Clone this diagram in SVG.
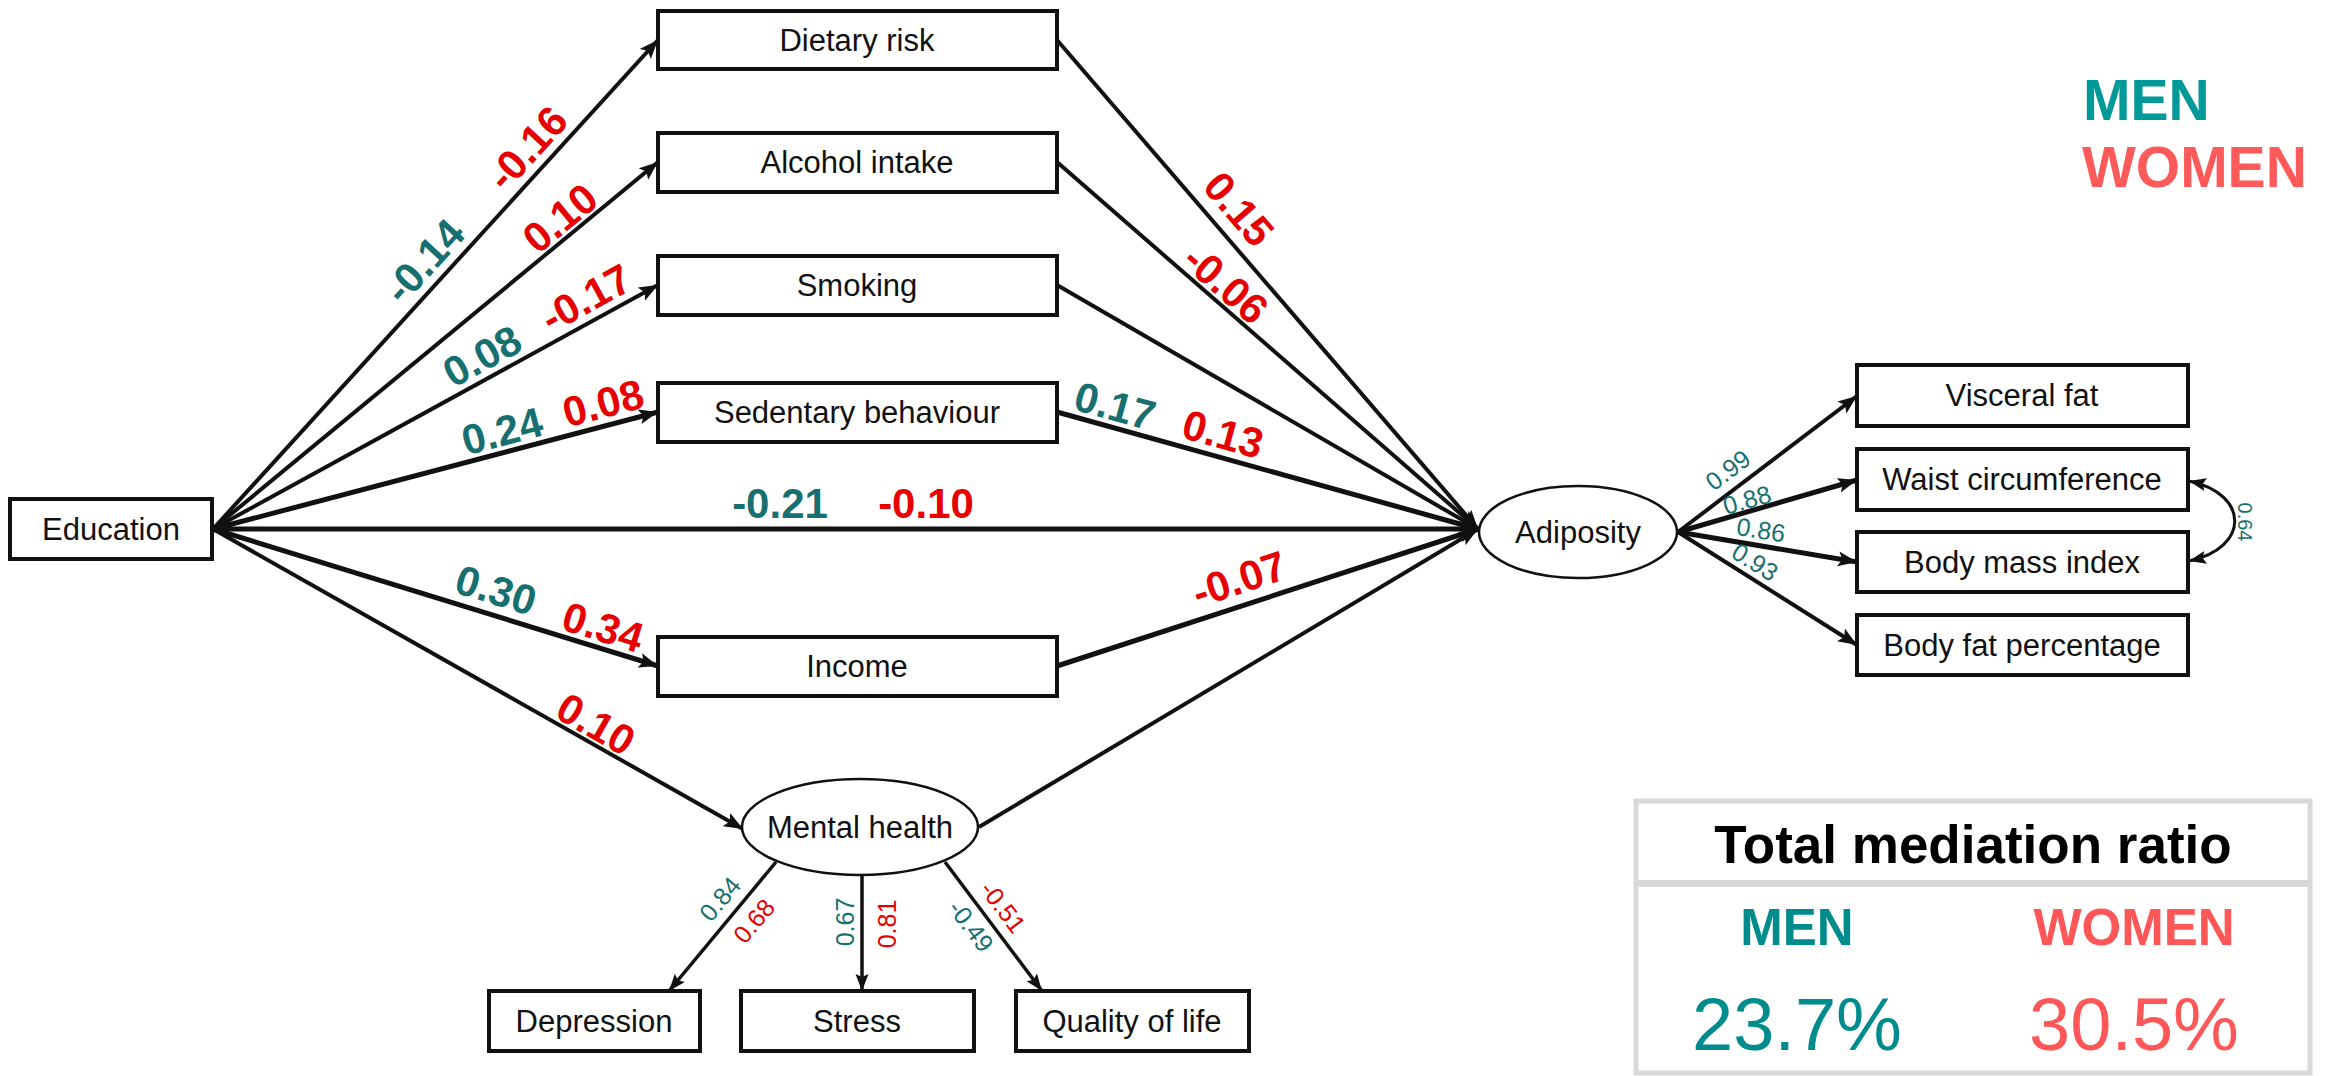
<svg xmlns="http://www.w3.org/2000/svg" width="2331" height="1076" viewBox="0 0 2331 1076">
  <defs>
    <marker id="arrow" markerUnits="userSpaceOnUse" markerWidth="20" markerHeight="16" refX="19" refY="7.5" orient="auto-start-reverse">
      <path d="M0,0 L19,7.5 L0,15 L4,7.5 z" fill="#111"/>
    </marker>
    <marker id="arrowSm" markerUnits="userSpaceOnUse" markerWidth="18" markerHeight="14" refX="17" refY="6.5" orient="auto-start-reverse">
      <path d="M0,0 L17,6.5 L0,13 L3,6.5 z" fill="#111"/>
    </marker>
    <style>
      .box { fill: #fff; stroke: #111; stroke-width: 4; }
      .ell { fill: #fff; stroke: #111; stroke-width: 2.5; }
      .lbl { font-family: "Liberation Sans", Arial, sans-serif; font-size: 31px; fill: #111; text-anchor: middle; }
      .edge { fill: none; stroke: #111; stroke-width: 4; marker-end: url(#arrow); }
      .thick { stroke-width: 5; }
      .coef { font-family: "Liberation Sans", Arial, sans-serif; font-size: 42px; font-weight: bold; text-anchor: middle; }
      .small { font-family: "Liberation Sans", Arial, sans-serif; font-size: 25px; text-anchor: middle; }
      .m { fill: #17706f; }
      .w { fill: #e60000; }
      .legend { font-family: "Liberation Sans", Arial, sans-serif; font-weight: bold; }
    </style>
  </defs>

  <rect width="2331" height="1076" fill="#fff"/>

  <!-- Connectors -->
  <g id="connectors">
    <!-- Education to mediators -->
    <line class="edge" x1="213" y1="529" x2="658" y2="40"/>
    <line class="edge" x1="213" y1="529" x2="658" y2="162"/>
    <line class="edge" x1="213" y1="529" x2="658" y2="285"/>
    <line class="edge thick" x1="213" y1="529" x2="658" y2="412"/>
    <line class="edge thick" x1="213" y1="529" x2="1478" y2="529"/>
    <line class="edge thick" x1="213" y1="529" x2="658" y2="666"/>
    <line class="edge" x1="213" y1="529" x2="743" y2="829"/>
    <!-- Mediators to adiposity -->
    <line class="edge" x1="1057" y1="40" x2="1478" y2="529"/>
    <line class="edge" x1="1057" y1="162" x2="1478" y2="529"/>
    <line class="edge" x1="1057" y1="285" x2="1478" y2="529"/>
    <line class="edge thick" x1="1057" y1="412" x2="1478" y2="529"/>
    <line class="edge thick" x1="1057" y1="666" x2="1478" y2="529"/>
    <line class="edge" x1="979" y1="827" x2="1478" y2="529"/>
    <!-- Adiposity indicators -->
    <line class="edge" x1="1678" y1="532" x2="1857" y2="396"/>
    <line class="edge thick" x1="1678" y1="532" x2="1857" y2="480"/>
    <line class="edge thick" x1="1678" y1="532" x2="1857" y2="562"/>
    <line class="edge" x1="1678" y1="532" x2="1857" y2="645"/>
    <!-- Mental health indicators -->
    <line class="edge" style="stroke-width:3.5;marker-end:url(#arrowSm)" x1="776" y1="862" x2="669" y2="991"/>
    <line class="edge" style="stroke-width:3.5;marker-end:url(#arrowSm)" x1="862" y1="875" x2="862" y2="991"/>
    <line class="edge" style="stroke-width:3.5;marker-end:url(#arrowSm)" x1="945" y1="862" x2="1042" y2="991"/>
    <!-- Residual covariance between waist and BMI -->
    <path d="M2189,481 C2250,494 2250,548 2189,561" fill="none" stroke="#111" stroke-width="3" marker-start="url(#arrowSm)" marker-end="url(#arrowSm)"/>

    <!-- Path coefficients -->
    <text class="coef m" transform="translate(424,261) rotate(-47.6)" dy="0.35em">-0.14</text>
    <text class="coef w" transform="translate(527,148) rotate(-47.6)" dy="0.35em">-0.16</text>
    <text class="coef w" transform="translate(560,218) rotate(-39.4)" dy="0.35em">0.10</text>
    <text class="coef m" transform="translate(482,356) rotate(-28.7)" dy="0.35em">0.08</text>
    <text class="coef w" transform="translate(586,298) rotate(-28.7)" dy="0.35em">-0.17</text>
    <text class="coef m" transform="translate(502,431) rotate(-14.7)" dy="0.35em">0.24</text>
    <text class="coef w" transform="translate(603,403) rotate(-14.7)" dy="0.35em">0.08</text>
    <text class="coef m" x="780" y="518">-0.21</text>
    <text class="coef w" x="926" y="518">-0.10</text>
    <text class="coef m" transform="translate(496,590) rotate(17.2)" dy="0.35em">0.30</text>
    <text class="coef w" transform="translate(603,627) rotate(17.2)" dy="0.35em">0.34</text>
    <text class="coef w" transform="translate(596,724) rotate(29.6)" dy="0.35em">0.10</text>
    <text class="coef w" transform="translate(1239,209) rotate(49.3)" dy="0.35em">0.15</text>
    <text class="coef w" transform="translate(1226,284) rotate(41.1)" dy="0.35em">-0.06</text>
    <text class="coef m" transform="translate(1115,406) rotate(15.4)" dy="0.35em">0.17</text>
    <text class="coef w" transform="translate(1223,434) rotate(15.4)" dy="0.35em">0.13</text>
    <text class="coef w" transform="translate(1239,579) rotate(-18.2)" dy="0.35em">-0.07</text>

    <!-- Loadings -->
    <text class="small m" transform="translate(1728,470) rotate(-37)" dy="0.35em">0.99</text>
    <text class="small m" transform="translate(1747,500) rotate(-16)" dy="0.35em">0.88</text>
    <text class="small m" transform="translate(1761,530) rotate(9)" dy="0.35em">0.86</text>
    <text class="small m" transform="translate(1755,562) rotate(32)" dy="0.35em">0.93</text>
    <text class="small m" style="font-size:20px" transform="translate(2245,522) rotate(90)" dy="0.35em">0.64</text>
    <text class="small m" transform="translate(720,899) rotate(-50)" dy="0.35em">0.84</text>
    <text class="small w" transform="translate(754,921) rotate(-50)" dy="0.35em">0.68</text>
    <text class="small m" transform="translate(845,922) rotate(-90)" dy="0.35em">0.67</text>
    <text class="small w" transform="translate(887,924) rotate(-90)" dy="0.35em">0.81</text>
    <text class="small m" transform="translate(971,926) rotate(53)" dy="0.35em">-0.49</text>
    <text class="small w" transform="translate(1003,907) rotate(53)" dy="0.35em">-0.51</text>
  </g>

  <!-- Nodes -->
  <g id="education"><rect class="box" x="10" y="499" width="202" height="60"/><text class="lbl" x="111" y="540">Education</text></g>
  <g id="dietary-risk"><rect class="box" x="658" y="11" width="399" height="58"/><text class="lbl" x="857" y="51">Dietary risk</text></g>
  <g id="alcohol-intake"><rect class="box" x="658" y="133" width="399" height="59"/><text class="lbl" x="857" y="173">Alcohol intake</text></g>
  <g id="smoking"><rect class="box" x="658" y="256" width="399" height="59"/><text class="lbl" x="857" y="296">Smoking</text></g>
  <g id="sedentary-behaviour"><rect class="box" x="658" y="383" width="399" height="59"/><text class="lbl" x="857" y="423">Sedentary behaviour</text></g>
  <g id="income"><rect class="box" x="658" y="637" width="399" height="59"/><text class="lbl" x="857" y="677">Income</text></g>
  <g id="mental-health"><ellipse class="ell" cx="860" cy="827" rx="118" ry="48"/><text class="lbl" x="860" y="838">Mental health</text></g>
  <g id="adiposity"><ellipse class="ell" cx="1578" cy="532" rx="99" ry="46"/><text class="lbl" x="1578" y="543">Adiposity</text></g>
  <g id="visceral-fat"><rect class="box" x="1857" y="365" width="331" height="61"/><text class="lbl" x="2022" y="406">Visceral fat</text></g>
  <g id="waist-circumference"><rect class="box" x="1857" y="449" width="331" height="61"/><text class="lbl" x="2022" y="490">Waist circumference</text></g>
  <g id="body-mass-index"><rect class="box" x="1857" y="532" width="331" height="60"/><text class="lbl" x="2022" y="573">Body mass index</text></g>
  <g id="body-fat-percentage"><rect class="box" x="1857" y="615" width="331" height="60"/><text class="lbl" x="2022" y="656">Body fat percentage</text></g>
  <g id="depression"><rect class="box" x="489" y="991" width="211" height="60"/><text class="lbl" x="594" y="1032">Depression</text></g>
  <g id="stress"><rect class="box" x="741" y="991" width="233" height="60"/><text class="lbl" x="857" y="1032">Stress</text></g>
  <g id="quality-of-life"><rect class="box" x="1016" y="991" width="233" height="60"/><text class="lbl" x="1132" y="1032">Quality of life</text></g>

  <!-- Legend -->
  <g id="legend" class="legend" style="font-size:57px">
    <text x="2083" y="120" fill="#009999">MEN</text>
    <text x="2082" y="187" fill="#ff5a5a">WOMEN</text>
  </g>

  <!-- Total mediation ratio table -->
  <g id="mediation-table">
    <rect x="1636" y="801" width="674" height="272" fill="#fff" stroke="#d9d9d9" stroke-width="5"/>
    <line x1="1636" y1="883.5" x2="2310" y2="883.5" stroke="#d9d9d9" stroke-width="7"/>
    <text class="legend" x="1973" y="863" font-size="53" text-anchor="middle" fill="#000">Total mediation ratio</text>
    <text class="legend" x="1797" y="945" font-size="51" text-anchor="middle" fill="#008c8c">MEN</text>
    <text class="legend" x="2134" y="945" font-size="51" text-anchor="middle" fill="#ff5757">WOMEN</text>
    <text x="1797" y="1050" font-family="Liberation Sans, Arial, sans-serif" font-size="74" text-anchor="middle" fill="#008c8c">23.7%</text>
    <text x="2134" y="1050" font-family="Liberation Sans, Arial, sans-serif" font-size="74" text-anchor="middle" fill="#ff5757">30.5%</text>
  </g>
</svg>
